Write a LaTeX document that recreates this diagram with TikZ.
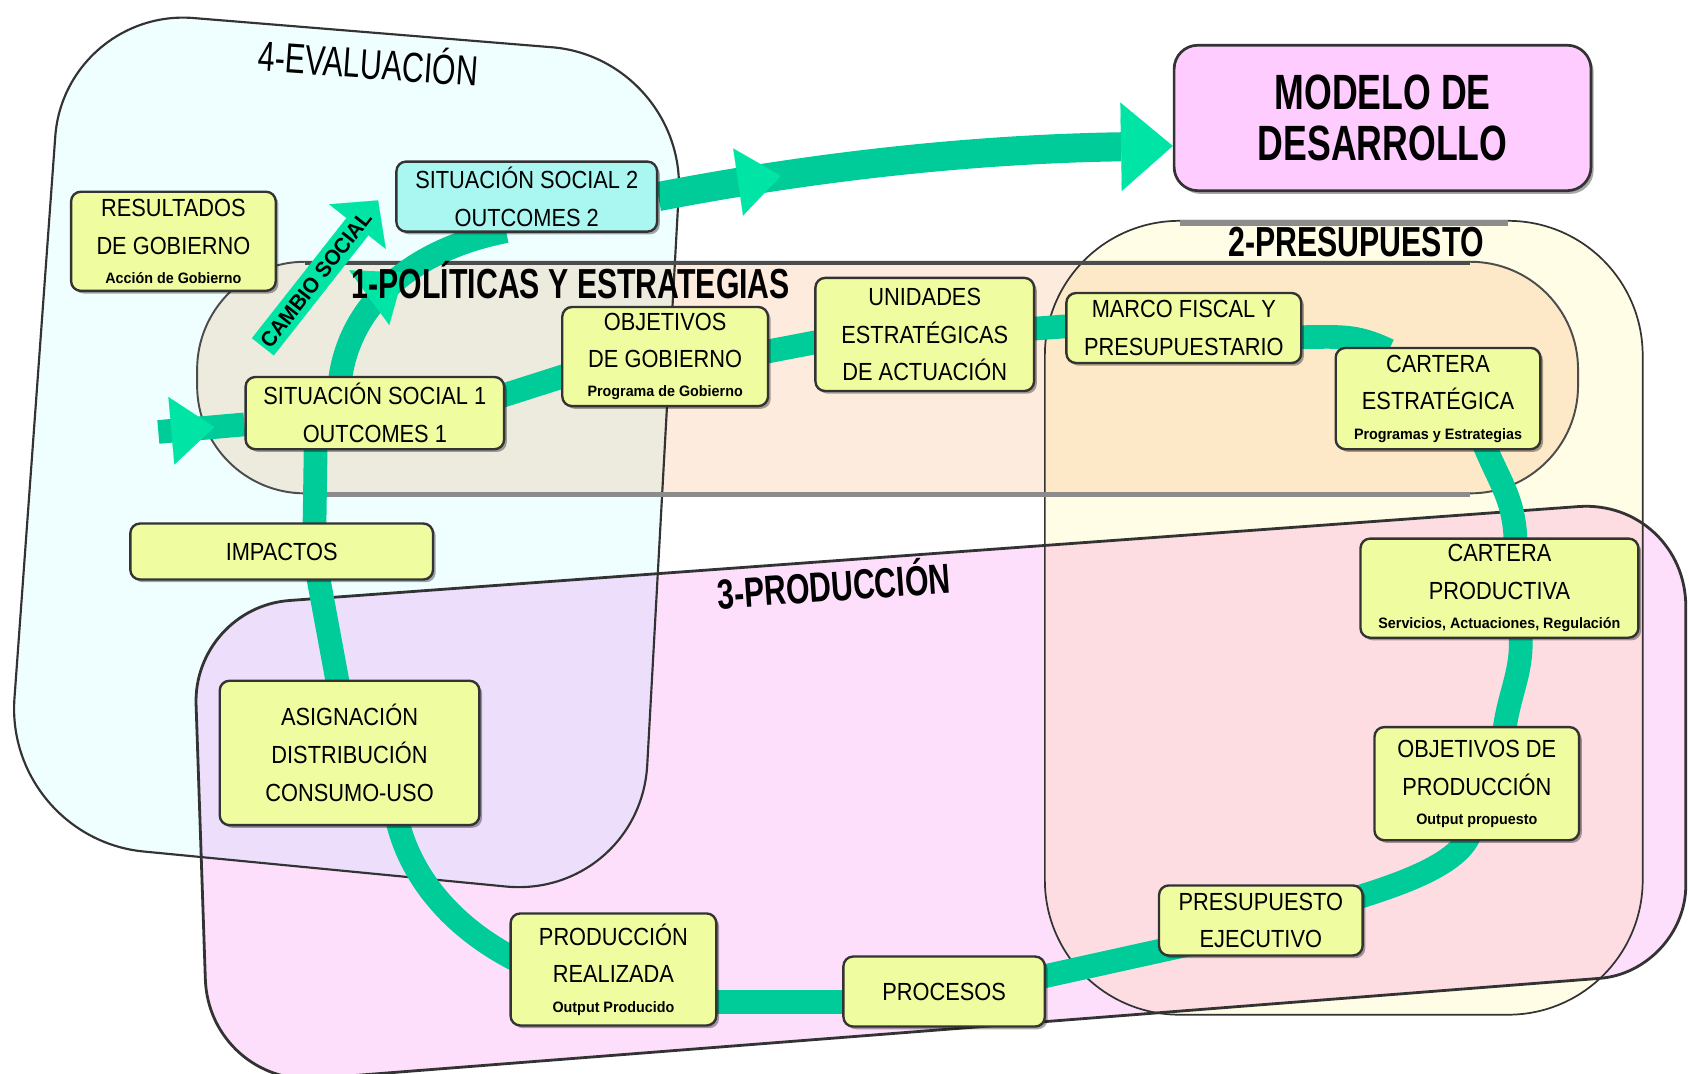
\documentclass[tikz,border=0pt]{standalone}
\usepackage{fontspec}
\setmainfont{Liberation Sans}
\newfontfamily\nf{Liberation Sans}[FakeStretch=0.88]
\newfontfamily\sbf{Liberation Sans}[FakeStretch=0.95]
\newfontfamily\tfn{Liberation Sans}[FakeStretch=0.72]
\usetikzlibrary{calc,arrows.meta,decorations.markings,shadows}
\pgfdeclarelayer{regions}
\pgfdeclarelayer{bands}
\pgfsetlayers{regions,bands,main}

\definecolor{regA}{RGB}{239,255,255}
\definecolor{regB}{RGB}{253,235,222}
\definecolor{regC}{RGB}{255,253,229}
\definecolor{regD}{RGB}{253,223,252}
\definecolor{boxy}{RGB}{240,252,160}
\definecolor{boxc}{RGB}{170,246,240}
\definecolor{boxm}{RGB}{255,204,255}
\definecolor{bandc}{RGB}{0,204,153}
\definecolor{headc}{RGB}{0,229,165}

\newcommand\rcor[5]{-- ($(#2)!#4pt!(#1)$) .. controls ($(#2)!#5pt!(#1)$) and ($(#2)!#5pt!(#3)$) .. ($(#2)!#4pt!(#3)$)}
\newcommand\pathEval{($(e4)!0.5!(e1)$) \rcor{e4}{e1}{e2}{120}{54} \rcor{e1}{e2}{e3}{125}{56} \rcor{e2}{e3}{e4}{125}{56} \rcor{e3}{e4}{e1}{130}{58} -- cycle}
\newcommand\pathProd{($(p4)!0.5!(p1)$) \rcor{p4}{p1}{p2}{90}{40} \rcor{p1}{p2}{p3}{100}{45} \rcor{p2}{p3}{p4}{80}{36} \rcor{p3}{p4}{p1}{100}{45} -- cycle}
\newcommand\subl[1]{\\[-8pt]{\sbf\bfseries\fontsize{14}{16}\selectfont #1}}

\begin{document}
\begin{tikzpicture}[x=1pt,y=-1pt,
  ybox/.style={draw=black!80, line width=2.2pt, fill=boxy, rounded corners=9pt, inner sep=0pt, align=center,
    font=\nf\fontsize{23}{35}\selectfont,
    drop shadow={shadow xshift=2.5pt,shadow yshift=-2.5pt,opacity=.35,fill=black}},
  band/.style={draw=bandc, line width=22pt},
  ext/.style={shorten <=-8pt, shorten >=-8pt},
  midarrow/.style={postaction={decorate,decoration={markings,mark=at position #1 with {\arrow{Triangle[length=40pt,width=63pt,line width=0.1pt,color=headc]}}}}},
  title/.style={font=\tfn\bfseries\fontsize{39}{40}\selectfont, anchor=base, inner sep=0pt},
  regline/.style={draw=black!80, line width=2pt}
]
\useasboundingbox (0,0) rectangle (1568,997);

\coordinate (e1) at (60,7);
\coordinate (e2) at (637,54);
\coordinate (e3) at (594,835);
\coordinate (e4) at (4,778);
\coordinate (p1) at (179,564);
\coordinate (p2) at (1565,463);
\coordinate (p3) at (1565,902);
\coordinate (p4) at (194,1009);

\begin{pgfonlayer}{regions}
\fill[white] (0,0) rectangle (1568,997);
\begin{scope}[blend mode=multiply]
  \fill[regA] \pathEval;
  \fill[regC, rounded corners=125pt] (970,205) rectangle (1525,942);
  \fill[regB, rounded corners=100pt] (183,243) rectangle (1465,458);
  \fill[regD] \pathProd;
\end{scope}
\draw[regline] \pathEval;
\draw[regline, line width=1.6pt, rounded corners=125pt] (970,205) rectangle (1525,942);
\draw[black!45, line width=5pt] (1095,207) -- (1400,207);
\draw[regline, line width=1.8pt, draw=black!70, rounded corners=100pt] (183,243) rectangle (1465,458);
\draw[black!70, line width=4pt] (283,244) -- (1365,244);
\draw[black!45, line width=5pt] (283,459) -- (1365,459);
\draw[regline, line width=2.6pt] \pathProd;
\end{pgfonlayer}

% nodes
\node[draw=black!80, line width=2.5pt, fill=boxm, rounded corners=22pt, minimum width=387pt, minimum height=135pt,
  inner sep=0pt, align=center, font=\tfn\bfseries\fontsize{46}{48}\selectfont,
  drop shadow={shadow xshift=2.5pt,shadow yshift=-3pt,opacity=.35,fill=black}] (modelo) at (1283.5,109.5) {MODELO DE\\DESARROLLO};
\node[ybox, minimum width=190pt, minimum height=92pt] (res) at (161,224) {RESULTADOS\\DE GOBIERNO\subl{Acción de Gobierno}};
\node[ybox, fill=boxc, minimum width=242pt, minimum height=65pt] (sit2) at (489,182.5) {SITUACIÓN SOCIAL 2\\OUTCOMES 2};
\node[ybox, minimum width=240pt, minimum height=67pt] (sit1) at (348,383.5) {SITUACIÓN SOCIAL 1\\OUTCOMES 1};
\node[ybox, minimum width=191pt, minimum height=92pt] (objg) at (617.5,331) {OBJETIVOS\\DE GOBIERNO\subl{Programa de Gobierno}};
\node[ybox, minimum width=203pt, minimum height=105pt] (unid) at (858.5,310.5) {UNIDADES\\ESTRATÉGICAS\\DE ACTUACIÓN};
\node[ybox, minimum width=218pt, minimum height=65pt] (marco) at (1099,304.5) {MARCO FISCAL Y\\PRESUPUESTARIO};
\node[ybox, minimum width=190pt, minimum height=94pt] (carte) at (1335,370) {CARTERA\\ESTRATÉGICA\subl{Programas y Estrategias}};
\node[ybox, minimum width=281pt, minimum height=52pt] (imp) at (261.5,512) {IMPACTOS};
\node[ybox, minimum width=258pt, minimum height=92pt] (cartp) at (1392,546) {CARTERA\\PRODUCTIVA\subl{Servicios, Actuaciones, Regulación}};
\node[ybox, minimum width=190pt, minimum height=105pt] (objp) at (1371,727.5) {OBJETIVOS DE\\PRODUCCIÓN\subl{Output propuesto}};
\node[ybox, minimum width=241pt, minimum height=134pt] (asig) at (324.5,699) {ASIGNACIÓN\\DISTRIBUCIÓN\\CONSUMO-USO};
\node[ybox, minimum width=189pt, minimum height=65pt] (pres) at (1170.5,854.5) {PRESUPUESTO\\EJECUTIVO};
\node[ybox, minimum width=191pt, minimum height=104pt] (prod) at (569.5,900) {PRODUCCIÓN\\REALIZADA\subl{Output Producido}};
\node[ybox, minimum width=187pt, minimum height=65pt] (proc) at (876.5,920.5) {PROCESOS};

% green bands
\begin{pgfonlayer}{bands}
\draw[band, line width=27pt, midarrow=0.24, -{Triangle[length=48pt,width=82pt,line width=0.1pt,color=headc]}]
  (sit2.east) .. controls +(140,-27) and +(-190,3) .. ([shift={(0,26)}]modelo.west);
\draw[band, ext] ([shift={(0,-17)}]sit1.east) -- ([shift={(0,19)}]objg.west);
\draw[band, ext] ([shift={(0,-5)}]objg.east) -- ([shift={(0,7.5)}]unid.west);
\draw[band, ext] ([shift={(0,-5.5)}]unid.east) -- ([shift={(0,-1.5)}]marco.west);
\draw[band, ext] ([shift={(0,8.5)}]marco.east) .. controls +(35,0) and +(-25,-12) .. ([shift={(-53,0)}]carte.north);
\draw[band, ext] ([shift={(45,0)}]carte.south) .. controls +(12,30) and +(0,-35) .. ([shift={(15,0)}]cartp.north);
\draw[band, ext] ([shift={(20,0)}]cartp.south) .. controls +(3,30) and +(3,-30) .. ([shift={(26,0)}]objp.north);
\draw[band, ext] ([shift={(-9,0)}]objp.south) .. controls +(-15,40) and +(45,-22) .. ([shift={(0,7.5)}]pres.center);
\draw[band, ext] ([shift={(0,7.5)}]pres.center) -- ([shift={(0,-14.5)}]proc.east);
\draw[band, ext] ([shift={(0,9.5)}]proc.west) -- ([shift={(0,30)}]prod.east);
\draw[band, ext] ([shift={(0,-12)}]prod.west) .. controls +(-55,-28) and +(10,45) .. ([shift={(45.5,0)}]asig.south);
\draw[band, ext] ([shift={(-11.5,0)}]asig.north) -- ([shift={(34.5,0)}]imp.south);
\draw[band, ext] ([shift={(30.5,0)}]imp.north) -- ([shift={(-55,0)}]sit1.south);
\draw[band, ext, midarrow=0.55] ([shift={(-32,0)}]sit1.north) .. controls +(6,-60) and +(-87,17) .. ([shift={(-27,0)}]sit2.south);
\coordinate (lin) at (147,401);
\draw[band, midarrow=0.65] (lin) -- ([shift={(0,10.5)}]sit1.west);
\coordinate (cs1) at (244,322);
\coordinate (cs2) at (351,186);
\draw[draw=headc, line width=26pt, -{Triangle[length=31pt,width=67pt,line width=0.1pt,color=headc]}] (cs1) -- (cs2);
\end{pgfonlayer}

\node[rotate=52, font=\sbf\bfseries\fontsize{20}{22}\selectfont, inner sep=0pt] (cstxt) at ($(cs1)!0.46!(cs2)$) {CAMBIO SOCIAL};

% region labels
\node[title, rotate=-4, font=\tfn\fontsize{39}{40}\selectfont] (lab4) at (341,73) {4-EVALUACIÓN};
\node[title] (lab1) at (530,277) {1-POLÍTICAS Y ESTRATEGIAS};
\node[title] (lab2) at (1259,238) {2-PRESUPUESTO};
\node[title, rotate=4] (lab3) at (775,558) {3-PRODUCCIÓN};
\end{tikzpicture}
\end{document}
